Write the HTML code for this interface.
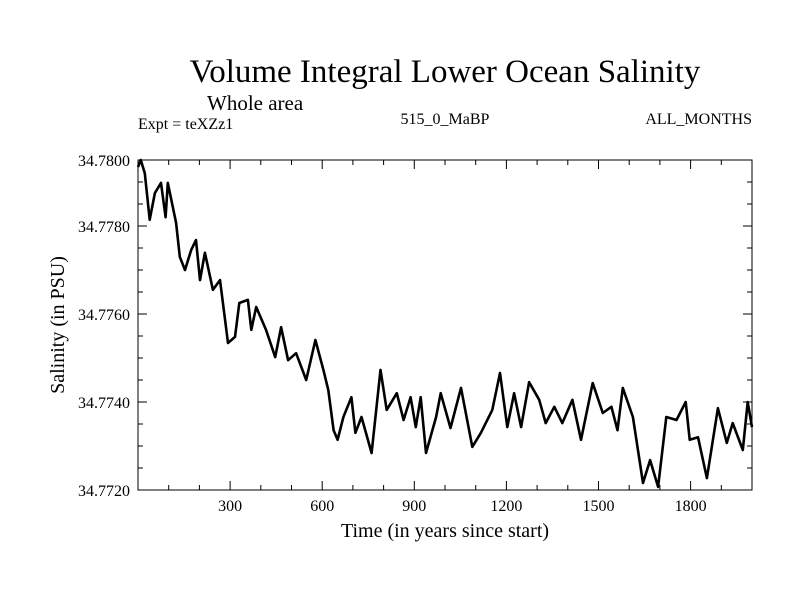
<!DOCTYPE html>
<html><head><meta charset="utf-8"><style>
body{margin:0;background:#fff;}
svg{display:block;font-family:"Liberation Serif",serif;}
</style></head><body>
<svg id="chart" width="800" height="600">
<text x="445" y="82" font-size="33" text-anchor="middle">Volume Integral Lower Ocean Salinity</text>
<text x="207" y="110" font-size="21">Whole area</text>
<text x="138" y="129" font-size="16">Expt = teXZz1</text>
<text x="445" y="124" font-size="16" text-anchor="middle">515_0_MaBP</text>
<text x="752" y="124" font-size="16" text-anchor="end">ALL_MONTHS</text>
<text x="445" y="537" font-size="20" text-anchor="middle">Time (in years since start)</text>
<text transform="translate(64,325) rotate(-90)" font-size="20" text-anchor="middle">Salinity (in PSU)</text>
<g id="axes"></g>
<path id="line" fill="none" stroke="#000" stroke-width="2.6" stroke-linejoin="round"></path>
<rect x="138" y="160" width="614" height="330" fill="none" stroke="#000" stroke-width="1"></rect>
</svg>
<script>
const years=[0,9,22,38,55,75,90,97,124,136,153,173,189,202,218,244,267,293,316,330,358,369,385,417,447,466,489,515,548,578,604,620,637,650,669,695,708,728,761,790,810,843,865,888,905,921,938,971,986,1018,1052,1089,1117,1154,1179,1203,1225,1248,1274,1307,1328,1356,1382,1415,1443,1481,1514,1542,1562,1579,1612,1645,1668,1694,1721,1754,1784,1797,1824,1853,1889,1918,1937,1970,1986,2000];
const salinity=[34.77934,34.7795,34.7792,34.77814,34.77875,34.77898,34.7782,34.77898,34.77807,34.7773,34.777,34.77745,34.77768,34.77677,34.77739,34.77655,34.77677,34.77534,34.77548,34.77625,34.77632,34.77564,34.77616,34.77564,34.77502,34.7757,34.77495,34.77511,34.7745,34.77541,34.77473,34.77427,34.77336,34.77314,34.77366,34.77411,34.7733,34.77366,34.77284,34.77473,34.77382,34.7742,34.77359,34.77411,34.77343,34.77411,34.77284,34.77366,34.7742,34.77341,34.77432,34.77298,34.7733,34.77382,34.77466,34.77343,34.7742,34.77343,34.77445,34.77405,34.77352,34.77389,34.77352,34.77405,34.77314,34.77443,34.77375,34.77389,34.77336,34.77432,34.77366,34.77216,34.77268,34.77207,34.77366,34.77359,34.774,34.77314,34.7732,34.77227,34.77386,34.77307,34.77352,34.77291,34.774,34.77343];
const xTickLabels=[300,600,900,1200,1500,1800];
const yTickLabels=["34.7720","34.7740","34.7760","34.7780"];
const yTopLabel="34.7800";
const L=138,R=752,T=160,B=490,X0=0,X1=2000,Y0=34.772,Y1=34.7795;
const xs=v=>L+(v-X0)/(X1-X0)*(R-L);
const ys=v=>B-(v-Y0)/(Y1-Y0)*(B-T);
const NS="http://www.w3.org/2000/svg";
const ax=document.getElementById('axes');
function ln(x1,y1,x2,y2){const l=document.createElementNS(NS,'line');l.setAttribute('x1',x1);l.setAttribute('y1',y1);l.setAttribute('x2',x2);l.setAttribute('y2',y2);l.setAttribute('stroke','#000');


ax.appendChild(l);}
function tx(x,y,s,anchor){const t=document.createElementNS(NS,'text');t.setAttribute('x',x);t.setAttribute('y',y);t.setAttribute('font-size','16');t.setAttribute('text-anchor',anchor);t.textContent=s;


ax.appendChild(t);}
for(let v=100;v<2000;v+=100){const x=xs(v);const maj=v%300===0;ln(x,B,x,B-(maj?9:5));ln(x,T,x,T+(maj?9:5));}
xTickLabels.forEach(v=>tx(xs(v),B+21,String(v),'middle'));
for(let i=0;i<=15;i++){const v=Y0+i*0.0005;const y=ys(v);const maj=i%4===0;ln(L,y,L+(maj?9:5),y);ln(R,y,R-(maj?9:5),y);}
yTickLabels.forEach(s=>tx(L-8,ys(parseFloat(s))+6,s,'end'));
tx(L-8,T+6,yTopLabel,'end');
document.getElementById('line').setAttribute('d',years.map((y,i)=>(i?'L':'M')+xs(y).toFixed(1)+','+ys(salinity[i]).toFixed(1)).join(''));
</script>
</body></html>
